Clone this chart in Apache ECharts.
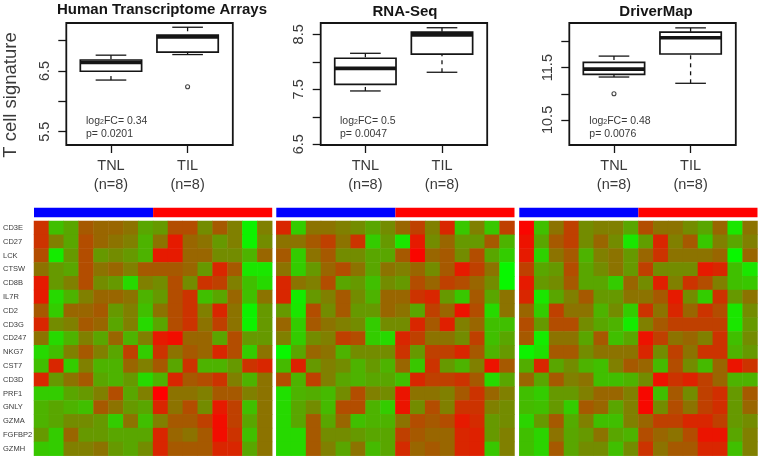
<!DOCTYPE html>
<html><head><meta charset="utf-8">
<style>html,body{margin:0;padding:0;background:#fff}#c{width:760px;height:459px}</style>
<script src="https://cdn.jsdelivr.net/npm/echarts@6/dist/echarts.min.js"></script>
</head><body><div id="c"></div>
<script>
const titles=['Human Transcriptome Arrays','RNA-Seq','DriverMap'];
const groupNames=['TNL\n(n=8)','TIL\n(n=8)'];
const fcLabels=['0.34','0.5','0.48'];
const pLabels=['0.0201','0.0047','0.0076'];
// box stats: [whisker low, Q1, median, Q3, whisker high]
const arrTNL=[6.35,6.495,6.64,6.68,6.76];
const arrTIL=[6.77,6.81,7.06,7.09,7.22];
const seqTNL=[7.47,7.59,7.88,8.065,8.155];
const seqTIL=[7.81,8.14,8.49,8.54,8.62];
const dmTNL=[11.32,11.37,11.47,11.6,11.72];
const dmTIL=[11.2,11.76,12.07,12.18,12.26];
const arrOutliers=[[2,6.24]];
const seqOutliers=[];
const dmOutliers=[[1,11.0]];
const arrTicks=[5.5,6,6.5,7], arrLabels=[5.5,6.5];
const seqTicks=[6.5,7,7.5,8,8.5], seqLabels=[6.5,7.5,8.5];
const dmTicks=[10.5,11,11.5,12], dmLabels=[10.5,11.5];
const arrRange=[5.28,7.29], seqRange=[6.487,8.706], dmRange=[10.02,12.353];
const genes=['CD3E','CD27','LCK','CTSW','CD8B','IL7R','CD2','CD3G','CD247','NKG7','CST7','CD3D','PRF1','GNLY','GZMA','FGFBP2','GZMH'];
const groupSizes=[8,8];
// heat level per gene: 0 = green, 10 = red
const heatArr=[
[8,2.5,3.5,6.5,6,6,5.5,3.5,4,7,7,4.5,6.5,5,0.5,5],
[8,5,3.5,7,6,5.5,5,3,5.5,9,6,5.5,4,5,0.5,4.5],
[7,0.8,4,7,4,4.5,4,3,9,9,6,6,4.5,4.5,3,6],
[5.5,4,3.5,7,5.5,6,5,6.5,6.5,6.5,6,4,8.5,6.5,1,1],
[9,4,5,7,4.5,4,1.5,5,4.5,7,4.5,8,7.5,5,2.5,1.5],
[9,1.5,3,5,6,6,5.5,3,4,7,8,2.5,3.5,6,2.5,5.5],
[6.5,2,6,6,6.5,4,5,2.5,5.5,7,8,5,8.5,5.5,0.5,4],
[8.5,4.5,5,6.5,6,3.5,5,1.5,3.5,7,8,5.5,7.5,5.5,0.5,4],
[5.5,1.5,3,5,3.5,6,3,5,9,9.5,6,6,3.5,7,4,4],
[1.5,2.5,5,6.5,5,3.5,7.5,2,8,5.5,6.5,6,8.5,7,2,5.5],
[2.5,8.5,2,5,3,3,6,5,6.5,3.5,8,3,3,4,8,8.5],
[8.5,4,5.5,6.5,3.5,3,4,1.5,3,8.5,6.5,7,8,5,3,5.5],
[2,2,3.5,4,5,7,3.5,5,10,5.5,5.5,5,6.5,6.5,5,5.5],
[3,3.5,3,2.5,6.5,5.5,4,3.5,8.5,5.5,7,4.5,9,7.5,2.5,5.5],
[3,3.5,4.5,4.5,4,2,5.5,2.5,5,6.5,6.5,7.5,9.5,7.5,3.5,5.5],
[4,2,6,4,4,3.5,3.5,3.5,8.5,6,5.5,6.5,9.5,8,2.5,5.5],
[2.2,2,5,5,5.5,4,3.5,4.5,8.5,6.5,6.5,6.5,8.5,8.5,3.5,5.5]];
const heatSeq=[
[8.5,2,5.5,5.5,5,4.5,3.5,4.5,6,7.5,5,8.5,2.2,5,2.2,7.5],
[5.5,5.5,6.5,7.5,5.5,8,2,4,1,9,4.5,6,4,4,6.5,3],
[6.5,2,5.5,6.5,4.5,4.5,3.5,3.5,6.5,9.8,6,6.5,4.5,7,3.5,2],
[5.5,2,4,6,7,5.5,3.5,5.5,5,6,4.5,6.5,9,7.5,5.5,0.3],
[8.5,5.5,5,7,3.5,4,2.5,4.5,4,7,6,7.5,7,6,4.5,0.3],
[8.5,0.8,4,5,6.5,4.5,3,6,6,8,8.5,4,2.2,6.5,3.5,5.5],
[4,1,7,4.5,6.5,4,4,6,5.5,3.5,7.5,6,9.3,7,1.5,5.5],
[6,2,6.5,5.5,5,4.5,2,4.5,4.5,8.5,6.5,8.8,5,6,2.5,2.5],
[5,2,4.5,5,7.5,7,2,1.5,8.5,7.5,5.5,5.5,4.5,7.5,2.5,3.5],
[0.3,3.5,6,5.5,3,4.5,4.5,4.5,8,4,7.5,7.5,8.5,6.5,3,4],
[2.7,8.7,4,5,4.5,3,4,3,6,2.2,8,4,3,5,9.3,6.5],
[7,3,7.5,5,3.5,3,3.5,3.5,2.5,8.5,7.5,7.5,8,6.5,1.5,3.5],
[1.2,3,3.2,2.7,4.5,7,5,4.5,9.2,5.5,5.5,5,6.5,8,6,5],
[1.5,3.5,4.5,2.7,7,7,3,2,9.2,4.5,7,5,8,8,5,4.5],
[1.5,3.5,6.5,3.5,6,2.5,3,3,5.5,7,6.5,7,9,8.3,4,4.5],
[1.5,1.5,6.5,4.5,4.5,4,3.5,3.5,7.5,6.5,6,6,8.5,8.7,4,5],
[1.5,1.5,6.5,5,3.5,5.5,2.7,3.5,8.3,6,6.5,6,8.5,8.7,2.2,5]];
const heatDm=[
[9.8,2.5,5.5,7.5,4.5,5,5,3.5,7,5.5,5.5,4.5,3.5,6,1,5.5],
[9.3,3.5,6.5,7.5,4.5,6,4.5,1,3.8,8.5,5,6.5,2.2,5,3.5,5],
[9,1.8,5.5,6.5,3,5,5.5,4,6,8,5.5,5.5,5.5,6,0.3,6],
[7.5,3.5,4,7,3.5,4.5,5.5,4,7.5,4.5,4.5,4.5,9,8.5,2.5,1],
[9,4,4.5,6.5,3.5,3.5,2,6,4.5,8.8,5,8,7,5,2.5,2.2],
[8.5,1,3.5,5,6.5,4,4,5.5,5.5,6.5,9,4.5,2,8,4,5.5],
[6,2,7.5,5.5,5.5,3,4.5,2,8,5.5,8.5,6,8,7,1,4.5],
[7,4,7,7,4.5,3.5,3,0.8,5,6.5,7.5,7.5,7.5,7.5,1,4],
[6.5,0.8,5.5,5.5,3.5,6.5,2.5,3.5,9.3,7.5,5.5,6,5,8,2.5,4.5],
[0.5,1.2,6.5,6.5,4.5,5.5,5.5,5.5,8.5,4.5,7.5,5.5,8,8,3,4],
[3.2,8.5,3.5,4.5,3,2.5,5,6.5,6,2.7,7,4.5,2.7,6,9.2,8],
[6,3.5,6.5,5,5.5,2.5,2.5,3,4.5,9.3,8,8.7,7.5,6,3,3],
[2.5,2,4,4,5,6,6,5,9.7,2.5,6.5,4.5,7.5,8.2,4,6.5],
[2.7,2.5,4,2,6.5,6,3.5,5,9.7,4.5,7,5.5,7.5,8.2,4,6],
[1.7,4,6.5,3.3,5,2.5,2.5,5,6,7.5,7.5,8.5,8.5,7.5,4,4.5],
[2.5,1.7,5.5,3.5,4,5.5,3.5,3,7,6,5.5,7,9.2,9.2,3.5,5],
[2.5,1.7,6.5,3.5,4.5,4.5,2.5,4.5,8,5.5,6.5,6.5,8.5,8.5,2.5,5]];

const ink='#151515', soft='#3a3a3a', sans='"Liberation Sans",Arial,sans-serif';
const boxes=[[arrTNL,arrTIL],[seqTNL,seqTIL],[dmTNL,dmTIL]];
const outliers=[arrOutliers,seqOutliers,dmOutliers];
const ticks=[arrTicks,seqTicks,dmTicks], tickLabels=[arrLabels,seqLabels,dmLabels];
const ranges=[arrRange,seqRange,dmRange], heats=[heatArr,heatSeq,heatDm];
const boxLeft=[66.3,320.7,569.3], boxWidth=166.5;
const heatLeft=[34,276.3,519.3], heatWidth=238.2;
const titleX=[162,405,656], titleY=[10,12,12], statX=[86,340,589.3];
const samples=[...Array(16).keys()];

function renderBox(p,api){
  const x=api.value(0), low=api.value(1), q1=api.value(2), med=api.value(3), q3=api.value(4), high=api.value(5);
  const pt=(dx,v)=>api.coord([x+dx,v]);
  const line=(a,b,w,dash)=>({type:'line',shape:{x1:a[0],y1:a[1],x2:b[0],y2:b[1]},
    style:{stroke:ink,lineWidth:w,lineDash:dash||null}});
  const tl=pt(-0.4,q3), br=pt(0.4,q1);
  return {type:'group',children:[
    {type:'rect',shape:{x:tl[0],y:tl[1],width:br[0]-tl[0],height:br[1]-tl[1]},style:{fill:'#fff',stroke:ink,lineWidth:1.7}},
    line(pt(0,high),pt(0,q3),1.3,[4,4]),
    line(pt(0,low),pt(0,q1),1.3,[4,4]),
    line(pt(-0.2,high),pt(0.2,high),1.3),
    line(pt(-0.2,low),pt(0.2,low),1.3),
    line(pt(-0.4,med),pt(0.4,med),3.6)
  ]};
}

const grid=[],xAxis=[],yAxis=[],series=[],title=[],graphic=[],heatIdx=[];
titles.forEach((t,i)=>{
  // box panel
  let g=grid.length;
  grid.push({left:boxLeft[i],top:23,width:boxWidth,height:122,show:true,borderColor:ink,borderWidth:1.8,backgroundColor:'#fff'});
  xAxis.push({gridIndex:g,type:'value',min:0.417,max:2.59,splitLine:{show:false},axisLine:{show:false},
    axisTick:{show:true,length:8,customValues:[1,2],lineStyle:{color:ink,width:1.3}},
    axisLabel:{customValues:[1,2],margin:12,color:soft,fontFamily:sans,fontSize:14.5,lineHeight:18.5,
      formatter:v=>groupNames[Math.round(v)-1]}});
  yAxis.push({gridIndex:g,type:'value',min:ranges[i][0],max:ranges[i][1],splitLine:{show:false},axisLine:{show:false},
    axisTick:{show:true,length:8,customValues:ticks[i],lineStyle:{color:ink,width:1.3}},
    axisLabel:{customValues:tickLabels[i],rotate:90,margin:14,color:soft,fontFamily:sans,fontSize:14.5,formatter:v=>v.toFixed(1),hideOverlap:false}});
  series.push({type:'custom',xAxisIndex:g,yAxisIndex:g,renderItem:renderBox,silent:true,animation:false,clip:false,
    encode:{x:0,y:[1,2,3,4,5]},
    data:boxes[i].map((b,k)=>[k+1,...b])});
  series.push({type:'scatter',xAxisIndex:g,yAxisIndex:g,symbol:'circle',symbolSize:4,silent:true,animation:false,
    itemStyle:{color:'#fff',borderColor:ink,borderWidth:1.1},data:outliers[i]});
  title.push({text:t,left:titleX[i],top:titleY[i],padding:0,textAlign:'center',textVerticalAlign:'middle',
    textStyle:{fontFamily:sans,fontWeight:'bold',fontSize:15,color:ink}});
  graphic.push({type:'text',left:statX[i],top:115,silent:true,style:{
    text:'{a|log}{s|2}{a|FC= '+fcLabels[i]+'}\n{a|p= '+pLabels[i]+'}',
    rich:{a:{fontFamily:sans,fontSize:10.5,fill:soft,lineHeight:13,verticalAlign:'bottom',height:13},
          s:{fontFamily:sans,fontSize:7,fill:soft,lineHeight:13,verticalAlign:'bottom',height:11}}}});

  // group colour bar
  g=grid.length;
  grid.push({left:heatLeft[i],top:207.7,width:heatWidth,height:9.6});
  xAxis.push({gridIndex:g,type:'value',min:0,max:16,show:false});
  yAxis.push({gridIndex:g,type:'category',data:['group'],show:false});
  ['#0000ff','#ff0000'].forEach((c,k)=>series.push({type:'bar',stack:'bar'+i,xAxisIndex:g,yAxisIndex:g,barWidth:'100%',
    silent:true,animation:false,itemStyle:{color:c},data:[groupSizes[k]]}));

  // heat map
  g=grid.length;
  grid.push({left:heatLeft[i],top:221,width:heatWidth,height:234.7});
  xAxis.push({gridIndex:g,type:'category',data:samples,show:false});
  yAxis.push({gridIndex:g,type:'category',data:genes,inverse:true,axisLine:{show:false},axisTick:{show:false},
    axisLabel:i===0?{show:true,interval:0,align:'left',margin:31,color:soft,fontFamily:sans,fontSize:7.5}:{show:false}});
  heatIdx.push(series.length);
  const cells=[];
  heats[i].forEach((row,r)=>row.forEach((v,c)=>cells.push([c,r,v])));
  series.push({type:'heatmap',xAxisIndex:g,yAxisIndex:g,silent:true,animation:false,progressive:0,data:cells});
});
const option={animation:false,backgroundColor:'#fff',grid,xAxis,yAxis,series,title,
  graphic:graphic.concat([{type:'text',x:11,y:95,rotation:Math.PI/2,silent:true,
    style:{text:'T cell signature',align:'center',verticalAlign:'middle',fontFamily:sans,fontSize:18.5,fill:soft}}]),
  visualMap:{show:false,type:'continuous',seriesIndex:heatIdx,min:0,max:10,inRange:{color:['#00ff00','#ff0000']}}};
echarts.init(document.getElementById('c'),null,{renderer:'canvas'}).setOption(option);
</script></body></html>
